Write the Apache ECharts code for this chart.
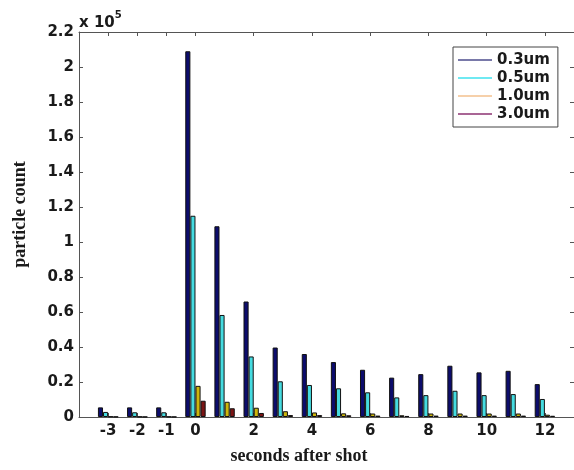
<!DOCTYPE html>
<html>
<head>
<meta charset="utf-8">
<script src="https://cdn.jsdelivr.net/npm/echarts@6/dist/echarts.min.js"></script>
<style>
  html, body { margin: 0; padding: 0; background: #fff; }
  #chart { width: 574px; height: 470px; }
</style>
</head>
<body>
<div id="chart"></div>
<script>
// seconds relative to the shot (one bar group per second)
const seconds = [-3, -2, -1, 0, 1, 2, 3, 4, 5, 6, 7, 8, 9, 10, 11, 12];
const tickSeconds = [-3, -2, -1, 0, 2, 4, 6, 8, 10, 12];

// particle counts
const um03 = [5500, 5500, 5500, 209000, 109000, 66000, 39700, 36000, 31400, 27000, 22500, 24500, 29300, 25500, 26400, 18800];
const um05 = [2900, 2700, 2700, 115000, 58300, 34600, 20400, 18300, 16400, 14100, 11200, 12500, 15000, 12500, 13100, 10300];
const um10 = [300, 200, 200, 17800, 8700, 5300, 3300, 2600, 2100, 2000, 1000, 2000, 2000, 2000, 2000, 1300];
const um30 = [150, 100, 100, 9300, 5000, 2300, 1100, 1100, 1000, 800, 600, 800, 800, 800, 800, 700];

const seriesNames = ["0.3um", "0.5um", "1.0um", "3.0um"];
const barColors = ["#0c0c6c", "#45dbe0", "#cdb60c", "#7a1414"];
const legendColors = ["#4d4d8c", "#3fe2ee", "#f3c08e", "#8c3272"];

const sans = "DejaVu Sans";
const serif = "Liberation Serif";
const ink = "#1a1a1a";
const axisGrey = "#555";

const chart = echarts.init(document.getElementById("chart"));

const yTicks = { min: 0, max: 220000, interval: 20000 };
const frame = { onZero: false, lineStyle: { color: axisGrey, width: 1 } };
const tick = { show: true, inside: true, length: 4, lineStyle: { color: axisGrey } };

chart.setOption({
  backgroundColor: "#fff",
  animation: false,
  grid: { left: 79, top: 32, width: 497, height: 386 },
  legend: {
    orient: "vertical",
    left: 453,
    top: 47,
    padding: [5.5, 8, 5.5, 5],
    itemGap: 3,
    itemWidth: 34,
    itemHeight: 1.6,
    icon: "rect",
    backgroundColor: "#fff",
    borderColor: "#444",
    borderWidth: 1,
    itemStyle: { borderWidth: 0 },
    textStyle: { fontFamily: sans, fontWeight: "bold", fontSize: 15, lineHeight: 15, color: ink },
    data: seriesNames.map((n, i) => ({ name: n, itemStyle: { color: legendColors[i], borderWidth: 0 } })),
  },
  graphic: [{
    type: "text",
    left: 79,
    top: 10,
    style: {
      text: "{a|x 10}{b|5}",
      rich: {
        a: { fontFamily: sans, fontWeight: "bold", fontSize: 15, fill: ink, padding: [6, 0, 0, 0] },
        b: { fontFamily: sans, fontWeight: "bold", fontSize: 10, fill: ink, verticalAlign: "top" },
      },
    },
  }],
  xAxis: [{
    type: "value",
    min: -4,
    max: 13,
    interval: 1,
    position: "bottom",
    name: "seconds after shot",
    nameLocation: "middle",
    nameGap: 30,
    nameTextStyle: { fontFamily: serif, fontWeight: "bold", fontSize: 18, color: ink, padding: [0, 55, 0, 0] },
    splitLine: { show: false },
    axisLine: frame,
    axisTick: { ...tick, customValues: tickSeconds },
    axisLabel: { customValues: tickSeconds, margin: 7, fontFamily: sans, fontWeight: "bold", fontSize: 15, color: ink },
  }, {
    type: "value",
    min: -4,
    max: 13,
    interval: 1,
    position: "top",
    splitLine: { show: false },
    axisLine: frame,
    axisTick: { ...tick, customValues: tickSeconds },
    axisLabel: { show: false },
  }],
  yAxis: [{
    type: "value",
    ...yTicks,
    position: "left",
    name: "particle count",
    nameLocation: "middle",
    nameGap: 50,
    nameTextStyle: { fontFamily: serif, fontWeight: "bold", fontSize: 18, color: ink, padding: [0, 0, 0, 20] },
    splitLine: { show: false },
    axisLine: { show: true, ...frame },
    axisTick: tick,
    axisLabel: {
      margin: 5,
      fontFamily: sans, fontWeight: "bold", fontSize: 15, color: ink,
      formatter: (v) => String(+(v / 1e5).toFixed(1)),
    },
  }, {
    type: "value",
    ...yTicks,
    position: "right",
    splitLine: { show: false },
    axisLine: { show: true, ...frame },
    axisTick: tick,
    axisLabel: { show: false },
  }],
  series: [um03, um05, um10, um30].map((vals, i) => ({
    name: seriesNames[i],
    type: "bar",
    xAxisIndex: 0,
    yAxisIndex: 0,
    barGap: "0%",
    barCategoryGap: "30%",
    itemStyle: { color: barColors[i], borderColor: "#111", borderWidth: 1 },
    data: seconds.map((s, j) => [s, vals[j]]),
  })),
});
</script>
</body>
</html>
